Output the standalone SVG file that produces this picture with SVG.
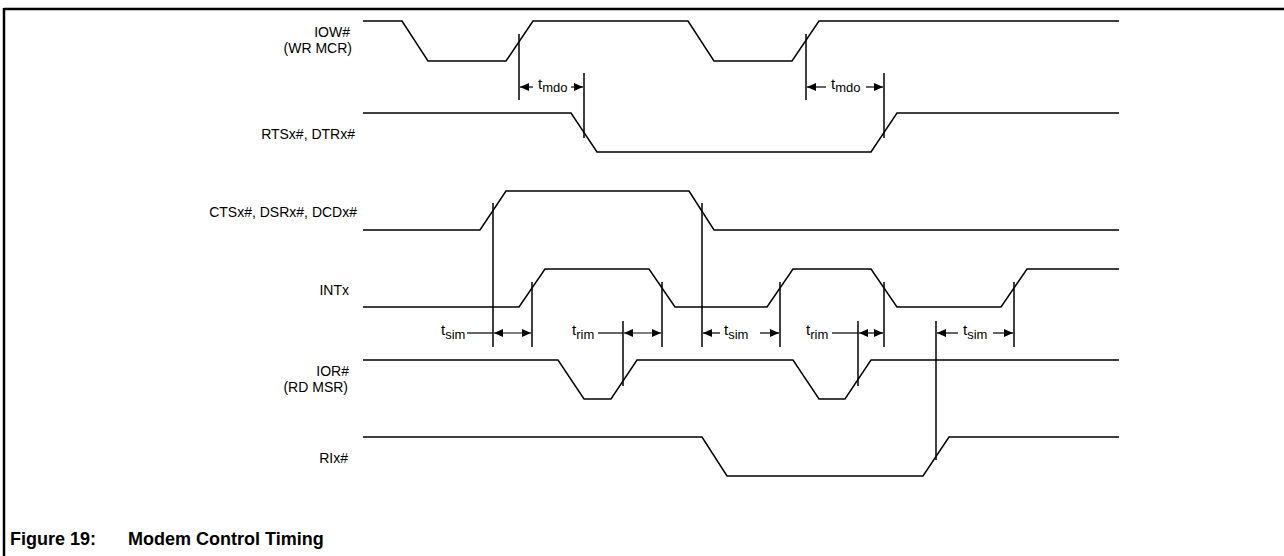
<svg xmlns="http://www.w3.org/2000/svg" width="1284" height="556" viewBox="0 0 1284 556">
<style>
.sig{fill:none;stroke:#000;stroke-width:1.5;stroke-linejoin:miter}
.mk{stroke:#000;stroke-width:1.5}
.ld{stroke:#000;stroke-width:1.2}
.lbl{font-family:"Liberation Sans",Arial,sans-serif;font-size:14px;fill:#000;text-anchor:end}
.t{font-family:"Liberation Sans",Arial,sans-serif;font-size:15px;fill:#000}
.sub{font-size:13px}
.ttl{font-family:"Liberation Sans",Arial,sans-serif;font-size:18px;font-weight:bold;fill:#000}
</style>
<defs>
<marker id="ah" markerWidth="9" markerHeight="8" refX="9" refY="4" orient="auto-start-reverse" markerUnits="userSpaceOnUse">
<path d="M0,0 L9,4 L0,8 Z" fill="#000"/>
</marker>
</defs>
<rect width="1284" height="556" fill="#fff"/>
<g id="frame">
<line x1="4" y1="9" x2="1284" y2="9" stroke="#000" stroke-width="2.5"/>
<line x1="4" y1="8" x2="4" y2="556" stroke="#000" stroke-width="2.5"/>
</g>
<g id="iow">
<text class="lbl" x="350" y="37">IOW#</text>
<text class="lbl" x="352" y="53">(WR MCR)</text>
<path class="sig" d="M363,21 H402 L428,61 H506 L533,21 H688 L714,61 H792 L819,21 H1119"/>
</g>
<g id="rts">
<text class="lbl" x="355" y="139">RTSx#, DTRx#</text>
<path class="sig" d="M363,113 H571 L597,152 H871 L897,113 H1119"/>
</g>
<g id="cts">
<text class="lbl" x="357" y="217">CTSx#, DSRx#, DCDx#</text>
<path class="sig" d="M363,230 H480 L506,191 H689 L714,230 H1119"/>
</g>
<g id="intx">
<text class="lbl" x="349" y="295">INTx</text>
<path class="sig" d="M363,307 H519 L545,269 H649 L675,307 H767 L793,269 H871 L897,307 H1001 L1027,269 H1119"/>
</g>
<g id="ior">
<text class="lbl" x="349" y="376">IOR#</text>
<text class="lbl" x="348" y="392">(RD MSR)</text>
<path class="sig" d="M363,360 H558 L584,399 H611 L637,360 H793 L819,399 H845 L871,360 H1119"/>
</g>
<g id="ri">
<text class="lbl" x="348" y="463">RIx#</text>
<path class="sig" d="M363,437 H702 L727,476 H923 L949,437 H1119"/>
</g>
<g id="connectors">
<line class="mk" x1="519" y1="34" x2="519" y2="100"/>
<line class="mk" x1="584" y1="73" x2="584" y2="138"/>
<line class="mk" x1="806" y1="34" x2="806" y2="100"/>
<line class="mk" x1="884" y1="73" x2="884" y2="138"/>
<line class="mk" x1="493" y1="203" x2="493" y2="347"/>
<line class="mk" x1="702" y1="203" x2="702" y2="347"/>
<line class="mk" x1="532" y1="282" x2="532" y2="347"/>
<line class="mk" x1="662" y1="282" x2="662" y2="347"/>
<line class="mk" x1="780" y1="282" x2="780" y2="347"/>
<line class="mk" x1="884" y1="282" x2="884" y2="347"/>
<line class="mk" x1="1014" y1="282" x2="1014" y2="347"/>
<line class="mk" x1="623" y1="321" x2="623" y2="386"/>
<line class="mk" x1="858" y1="321" x2="858" y2="386"/>
<line class="mk" x1="936" y1="321" x2="936" y2="460"/>
<line class="ld" x1="533" y1="87" x2="520" y2="87" marker-end="url(#ah)"/>
<line class="ld" x1="571" y1="87" x2="583" y2="87" marker-end="url(#ah)"/>
<line class="ld" x1="826" y1="87" x2="807" y2="87" marker-end="url(#ah)"/>
<line class="ld" x1="866" y1="87" x2="883" y2="87" marker-end="url(#ah)"/>
<line class="ld" x1="467" y1="333" x2="493" y2="333"/>
<line class="ld" x1="494" y1="333" x2="531" y2="333" marker-start="url(#ah)" marker-end="url(#ah)"/>
<line class="ld" x1="598" y1="333" x2="623" y2="333"/>
<line class="ld" x1="624" y1="333" x2="661" y2="333" marker-start="url(#ah)" marker-end="url(#ah)"/>
<line class="ld" x1="720" y1="333" x2="703" y2="333" marker-end="url(#ah)"/>
<line class="ld" x1="760" y1="333" x2="779" y2="333" marker-end="url(#ah)"/>
<line class="ld" x1="832" y1="333" x2="858" y2="333"/>
<line class="ld" x1="859" y1="333" x2="883" y2="333" marker-start="url(#ah)" marker-end="url(#ah)"/>
<line class="ld" x1="958" y1="333" x2="937" y2="333" marker-end="url(#ah)"/>
<line class="ld" x1="993" y1="333" x2="1013" y2="333" marker-end="url(#ah)"/>
</g>
<g id="timing-labels">
<text class="t" x="538" y="89">t<tspan class="sub" dy="3">mdo</tspan></text>
<text class="t" x="831" y="89">t<tspan class="sub" dy="3">mdo</tspan></text>
<text class="t" x="441" y="335">t<tspan class="sub" dy="4">sim</tspan></text>
<text class="t" x="572" y="335">t<tspan class="sub" dy="4">rim</tspan></text>
<text class="t" x="724" y="335">t<tspan class="sub" dy="4">sim</tspan></text>
<text class="t" x="806" y="335">t<tspan class="sub" dy="4">rim</tspan></text>
<text class="t" x="963" y="335">t<tspan class="sub" dy="4">sim</tspan></text>
</g>
<g id="title">
<text class="ttl" x="10" y="545">Figure 19:</text>
<text class="ttl" x="128" y="545">Modem Control Timing</text>
</g>
</svg>
